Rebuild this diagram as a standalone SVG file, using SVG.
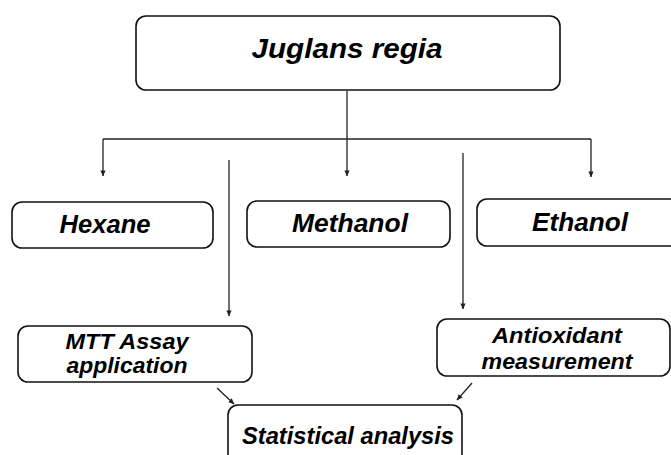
<svg xmlns="http://www.w3.org/2000/svg" width="671" height="455" viewBox="0 0 671 455">
<style>
.box{fill:#fff;stroke:#111;stroke-width:1.6}
.t{font-family:"Liberation Sans",Arial,sans-serif;font-weight:bold;font-style:italic;fill:#000;text-anchor:middle}
.c{fill:none;stroke:#222;stroke-width:1.3}
</style>
<defs>
<marker id="ah" viewBox="0 0 8 8" refX="7.5" refY="4" markerWidth="6" markerHeight="6" markerUnits="userSpaceOnUse" orient="auto">
<path d="M0,0.5 L8,4 L0,7.5 Z" fill="#222"/>
</marker>
</defs>
<rect width="671" height="455" fill="#fff"/>
<g id="connectors">
<line class="c" x1="347" y1="91" x2="347" y2="139"/>
<line class="c" x1="103" y1="139" x2="591" y2="139"/>
<line class="c" x1="103" y1="139" x2="103" y2="176" marker-end="url(#ah)"/>
<line class="c" x1="347" y1="139" x2="347" y2="176" marker-end="url(#ah)"/>
<line class="c" x1="591" y1="139" x2="591" y2="177" marker-end="url(#ah)"/>
<line class="c" x1="229" y1="160" x2="229" y2="316" marker-end="url(#ah)"/>
<line class="c" x1="463" y1="153" x2="463" y2="309" marker-end="url(#ah)"/>
<line class="c" x1="217" y1="388" x2="234" y2="404" marker-end="url(#ah)"/>
<line class="c" x1="472" y1="383" x2="457" y2="400" marker-end="url(#ah)"/>
</g>
<g id="juglans">
<rect class="box" x="136" y="16" width="424" height="74" rx="10"/>
<text class="t" x="347" y="58" font-size="28" textLength="191" lengthAdjust="spacingAndGlyphs">Juglans regia</text>
</g>
<g id="hexane">
<rect class="box" x="12" y="202" width="201" height="46" rx="10"/>
<text class="t" x="105" y="233" font-size="25" textLength="91" lengthAdjust="spacingAndGlyphs">Hexane</text>
</g>
<g id="methanol">
<rect class="box" x="247" y="201" width="203" height="46" rx="10"/>
<text class="t" x="350" y="232" font-size="25" textLength="116" lengthAdjust="spacingAndGlyphs">Methanol</text>
</g>
<g id="ethanol">
<rect class="box" x="477" y="199" width="204" height="47" rx="10"/>
<text class="t" x="580" y="231" font-size="25" textLength="96" lengthAdjust="spacingAndGlyphs">Ethanol</text>
</g>
<g id="mtt">
<rect class="box" x="18" y="326" width="234" height="56" rx="10"/>
<text class="t" x="127" y="349" font-size="22.5" textLength="123" lengthAdjust="spacingAndGlyphs">MTT Assay</text>
<text class="t" x="127" y="373" font-size="22.5" textLength="121" lengthAdjust="spacingAndGlyphs">application</text>
</g>
<g id="antioxidant">
<rect class="box" x="437" y="319" width="233" height="57" rx="10"/>
<text class="t" x="557" y="343" font-size="22.5" textLength="130" lengthAdjust="spacingAndGlyphs">Antioxidant</text>
<text class="t" x="557" y="369" font-size="22.5" textLength="151" lengthAdjust="spacingAndGlyphs">measurement</text>
</g>
<g id="statistical">
<rect class="box" x="228" y="405" width="234" height="60" rx="10"/>
<text class="t" x="348" y="444" font-size="24" textLength="212" lengthAdjust="spacingAndGlyphs">Statistical analysis</text>
</g>
</svg>
